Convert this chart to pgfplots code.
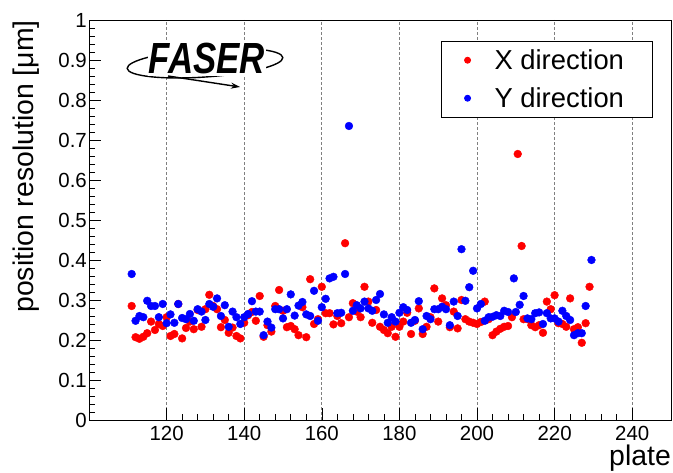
\documentclass[border=0pt]{standalone}
\usepackage{fontspec}
\setmainfont{Liberation Sans}
\usepackage{pgfplots}
\usepackage{pgfplotstable}
\pgfplotsset{compat=1.18}
\usetikzlibrary{arrows.meta}

\pgfplotstableread{
plate res
111 0.285
112 0.207
113 0.203
114 0.208
115 0.217
116 0.246
117 0.225
118 0.240
119 0.235
120 0.257
121 0.210
122 0.215
123 0.290
124 0.204
125 0.230
126 0.246
127 0.227
128 0.275
129 0.233
130 0.277
131 0.313
132 0.285
133 0.277
134 0.232
135 0.250
136 0.218
137 0.231
138 0.210
139 0.204
140 0.243
141 0.262
142 0.270
143 0.248
144 0.310
145 0.208
146 0.237
147 0.221
148 0.285
149 0.325
150 0.273
151 0.232
152 0.235
153 0.227
154 0.212
155 0.282
156 0.207
157 0.352
158 0.240
159 0.252
160 0.333
161 0.267
162 0.267
163 0.239
164 0.260
165 0.242
166 0.442
167 0.257
168 0.292
169 0.271
170 0.257
171 0.333
172 0.296
173 0.243
174 0.275
175 0.233
176 0.225
177 0.217
178 0.233
179 0.208
180 0.233
181 0.246
182 0.268
183 0.215
184 0.248
185 0.279
186 0.215
187 0.233
188 0.257
189 0.329
190 0.246
191 0.304
192 0.287
193 0.232
194 0.271
195 0.229
196 0.300
197 0.252
198 0.246
199 0.243
200 0.240
201 0.245
202 0.296
203 0.252
204 0.212
205 0.221
206 0.228
207 0.233
208 0.235
209 0.257
210.5 0.665
211.5 0.435
212 0.252
213 0.252
214 0.237
215 0.232
216 0.237
217 0.218
218 0.296
219 0.277
220 0.312
221 0.242
222 0.240
223 0.233
224 0.304
225 0.227
226 0.232
227 0.193
228 0.242
229 0.333
}\xdir

\pgfplotstableread{
plate res
111 0.365
112 0.248
113 0.260
114 0.257
115 0.298
116 0.285
117 0.285
118 0.257
119 0.290
120 0.242
121 0.264
122 0.243
123 0.290
124 0.255
125 0.252
126 0.265
127 0.248
128 0.277
129 0.271
130 0.250
131 0.290
132 0.283
133 0.304
134 0.260
135 0.287
136 0.233
137 0.271
138 0.257
139 0.240
140 0.257
141 0.265
142 0.297
143 0.271
144 0.271
145 0.212
146 0.246
147 0.231
148 0.277
149 0.277
150 0.254
151 0.277
152 0.314
153 0.261
154 0.286
155 0.295
156 0.264
157 0.260
158 0.323
159 0.248
160 0.282
161 0.303
162 0.354
163 0.358
164 0.267
165 0.268
166 0.365
167 0.735
168 0.273
169 0.287
170 0.279
171 0.296
172 0.279
173 0.273
174 0.300
175 0.315
176 0.264
177 0.243
178 0.257
179 0.246
180 0.268
181 0.282
182 0.275
183 0.243
184 0.250
185 0.297
186 0.227
187 0.260
188 0.252
189 0.277
190 0.277
191 0.283
192 0.277
193 0.237
194 0.296
195 0.260
196 0.427
197 0.298
198 0.332
199 0.373
200 0.279
201 0.290
202 0.248
203 0.257
204 0.258
205 0.262
206 0.260
207 0.273
208 0.270
209.5 0.354
210 0.270
211 0.288
212 0.310
213 0.254
214 0.252
215 0.267
216 0.269
217 0.240
218 0.267
219 0.254
220 0.254
221 0.246
222 0.273
223 0.260
224 0.250
225 0.212
226 0.217
227 0.217
228 0.285
229.5 0.400
}\ydir

\begin{document}
\begin{tikzpicture}[x=1bp,y=1bp]
\useasboundingbox (0,0) rectangle (673,473);
\begin{axis}[
  at={(89bp,53bp)}, anchor=south west,
  width=582bp, height=400bp, scale only axis,
  xmin=100, xmax=250, ymin=0, ymax=1,
  xtick={120,140,160,180,200,220,240},
  ytick={0,0.1,0.2,0.3,0.4,0.5,0.6,0.7,0.8,0.9,1},
  yticklabels={0,0.1,0.2,0.3,0.4,0.5,0.6,0.7,0.8,0.9,1},
  minor x tick num=4, minor y tick num=4,
  tick pos=left, tick align=inside,
  major tick length=12bp, minor tick length=6bp,
  every tick/.style={black, line width=0.6bp},
  axis line style={line width=0.8bp},
  xmajorgrids,
  major x grid style={dash pattern=on 3bp off 2bp, gray, line width=0.7bp},
  /pgf/number format/assume math mode=true,
  tick label style={font=\fontsize{20.5}{20.5}\selectfont},
  xticklabel style={yshift=-3bp},
  yticklabel style={inner xsep=2bp},
  xlabel={plate},
  ylabel={position resolution [μm]},
  label style={font=\fontsize{28.5}{28.5}\selectfont},
  xlabel style={at={(axis description cs:1,0)}, anchor=base east, inner sep=0pt, yshift=-46bp},
  ylabel style={at={(axis description cs:-0.108,1)}, anchor=east, inner sep=0pt},
  legend style={at={(axis description cs:0.605,0.948)}, anchor=north west,
    draw=black, line width=0.9bp, inner sep=0bp, row sep=0bp,
    font=\fontsize{27.5}{27.5}\selectfont,
    nodes={inner sep=0bp, minimum height=38bp, anchor=west},
    /tikz/every odd column/.append style={column sep=0bp}},
  legend cell align=left,
  legend image code/.code={%
    \path[draw=none] (-26bp,0bp) -- (27bp,0bp);
    \path[#1, draw=none, mark size=3bp] plot coordinates {(0bp,0bp)};},
]
\addplot[only marks, mark=*, mark size=3.9bp, color=red, mark options={draw=red, fill=red}] table[x=plate, y=res] {\xdir};
\addlegendentry{\makebox[158bp][l]{X direction}}
\addplot[only marks, mark=*, mark size=3.9bp, color=blue, mark options={draw=blue, fill=blue}] table[x=plate, y=res] {\ydir};
\addlegendentry{\makebox[158bp][l]{Y direction}}
\end{axis}
% FASER logo (decoration)
\draw[line width=1.4bp, rotate around={4:(205,410)}] (205,410) ellipse (78bp and 14bp);
\node[font=\fontsize{35}{35}\bfseries\itshape, yscale=1.25, fill=white, inner sep=1bp] at (207,414) {FASER};
\draw[line width=1.4bp, -{Stealth[length=9bp,width=6bp]}] (168,397) -- (240,386);
\end{tikzpicture}
\end{document}
